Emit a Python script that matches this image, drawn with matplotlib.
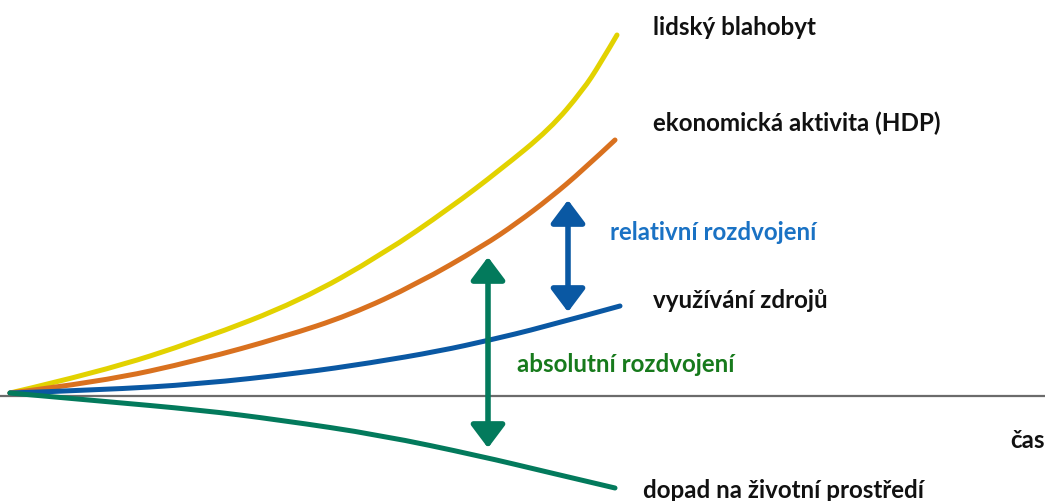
import matplotlib.pyplot as plt
from matplotlib.path import Path
from matplotlib.patches import PathPatch

# curves: time (px along axis) and level (px, y down)
wellbeing_t = [10, 100, 200, 300, 383, 450, 500, 550, 583, 600, 617]
wellbeing_y = [393, 372, 340, 301, 254, 208, 170, 129, 90, 64, 35]

gdp_t = [10, 100, 200, 283, 350, 417, 483, 517, 550, 583, 615]
gdp_y = [393, 382, 360, 337, 315, 284, 246, 223, 198, 170, 140]

resource_t = [10, 100, 200, 300, 370, 440, 490, 540, 620]
resource_y = [393, 390, 384, 373, 363, 351, 340, 328, 306]

impact_t = [10, 100, 200, 280, 380, 480, 547, 615]
impact_y = [393, 401, 410, 420, 435, 456, 472, 488]

axis_y = 396

# double arrows: (x, top, bottom)
rel_arrow = (568, 200, 312)
abs_arrow = (488, 257, 448)

labels = ["lidský blahobyt", "ekonomická aktivita (HDP)", "využívání zdrojů",
          "dopad na životní prostředí", "čas"]
label_pos = [(653, 27), (653, 123), (653, 300), (643, 490), (1010, 440)]

plt.rcParams['font.family'] = ['Lato', 'DejaVu Sans']


def smooth_curve(ax, xs, ys, color):
    # quadratic bezier through midpoints, read points act as control points
    pts = list(zip(xs, ys))
    verts = [pts[0]]
    codes = [Path.MOVETO]
    for i in range(1, len(pts) - 1):
        mid = ((pts[i][0] + pts[i + 1][0]) / 2, (pts[i][1] + pts[i + 1][1]) / 2)
        end = mid if i < len(pts) - 2 else pts[-1]
        verts += [pts[i], end]
        codes += [Path.CURVE3, Path.CURVE3]
    ax.add_patch(PathPatch(Path(verts, codes), fill=False, edgecolor=color,
                           lw=3.6, capstyle="round", zorder=2))


fig = plt.figure(figsize=(10.45, 5.01), dpi=100)
ax = fig.add_axes([0, 0, 1, 1])
ax.set_xlim(0, 1045)
ax.set_ylim(501, 0)
ax.axis("off")

ax.plot([0, 1045], [axis_y, axis_y], color="#6b6b6b", lw=1.6, zorder=1)

smooth_curve(ax, wellbeing_t, wellbeing_y, "#e2d200")
smooth_curve(ax, gdp_t, gdp_y, "#d9711f")
smooth_curve(ax, resource_t, resource_y, "#0a58a3")
smooth_curve(ax, impact_t, impact_y, "#037a5c")

for (x, top, bot), c in [(rel_arrow, "#0a58a3"), (abs_arrow, "#037a5c")]:
    ax.annotate("", xy=(x, top), xytext=(x, bot),
                arrowprops=dict(arrowstyle="<|-|>,head_length=1.4,head_width=1.05",
                                color=c, lw=4, shrinkA=0, shrinkB=0), zorder=4)

for txt, (x, y) in zip(labels, label_pos):
    ax.text(x, y, txt, fontsize=17.4, fontweight="bold", color="#111111",
            ha="left", va="center")

ax.text(610, 233, "relativní rozdvojení", fontsize=17.4, fontweight="bold",
        color="#1a72c4", ha="left", va="center")
ax.text(517, 365, "absolutní rozdvojení", fontsize=17.4, fontweight="bold",
        color="#177a1c", ha="left", va="center")

fig.savefig("out.png", dpi=100)
